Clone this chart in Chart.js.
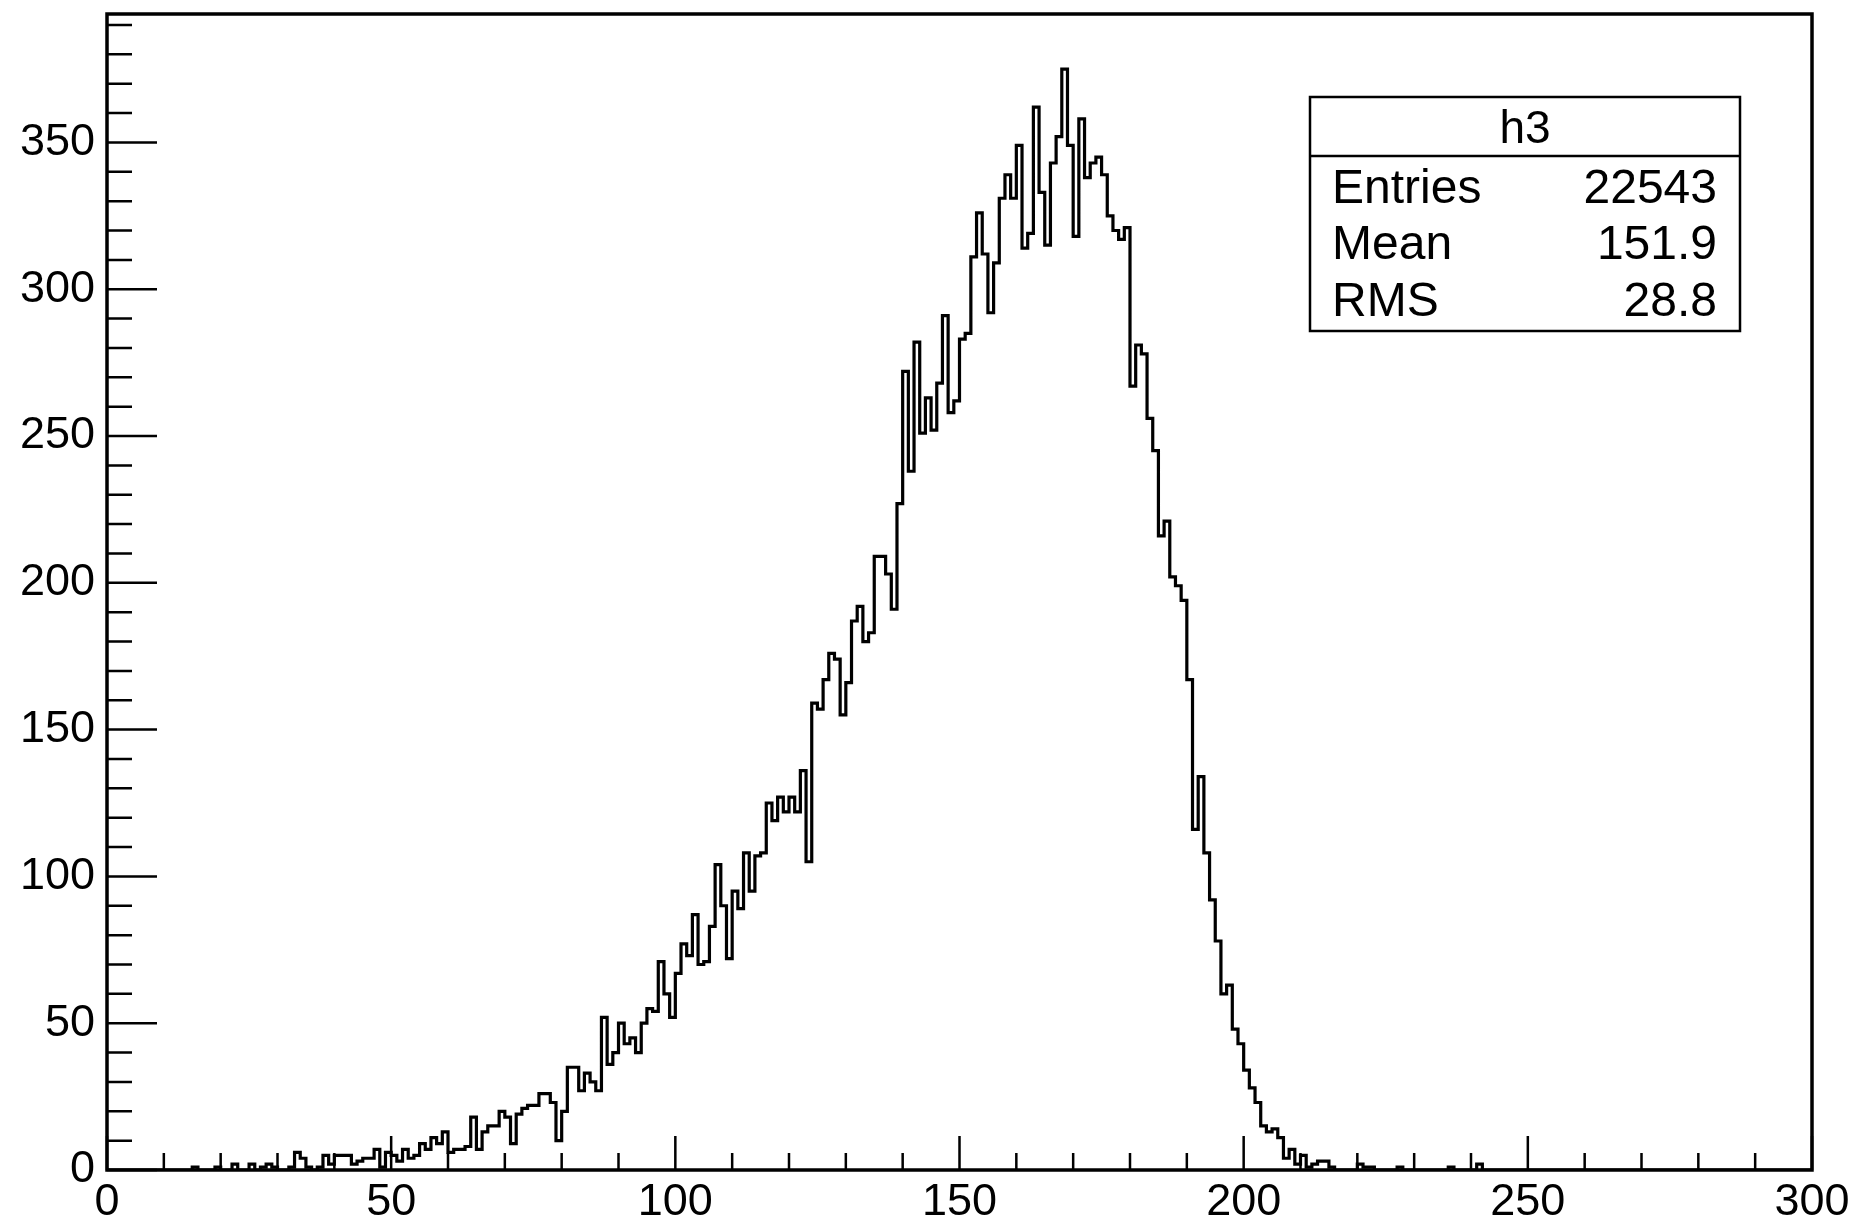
<!DOCTYPE html>
<html>
<head>
<meta charset="utf-8">
<script src="https://cdn.jsdelivr.net/npm/chart.js@4.4.1/dist/chart.umd.min.js"></script>
<style>
  html, body { margin: 0; padding: 0; background: #fff; }
  #wrap { width: 1857px; height: 1223px; }
</style>
</head>
<body>
<div id="wrap"><canvas id="h3" width="1857" height="1223"></canvas></div>
<script>
// histogram h3: 300 bins of width 1 from 0 to 300
const binLow = 0;
const binWidth = 1;

// bins 0-59
const countsLowTail = [
  0, 0, 0, 0, 0, 0, 0, 0, 0, 0,
  0, 0, 0, 0, 0, 1, 0, 0, 0, 1,
  0, 0, 2, 0, 0, 2, 0, 1, 2, 1,
  0, 0, 1, 6, 4, 1, 0, 1, 5, 2,
  5, 5, 5, 2, 3, 4, 4, 7, 1, 6,
  5, 3, 7, 4, 5, 9, 7, 11, 9, 13
];
// bins 60-119
const countsRise = [
  6, 7, 7, 8, 18, 7, 13, 15, 15, 20,
  18, 9, 19, 21, 22, 22, 26, 26, 23, 10,
  20, 35, 35, 27, 33, 30, 27, 52, 36, 40,
  50, 43, 45, 40, 50, 55, 54, 71, 60, 52,
  67, 77, 73, 87, 70, 71, 83, 104, 90, 72,
  95, 89, 108, 95, 107, 108, 125, 119, 127, 122
];
// bins 120-179
const countsPeak = [
  127, 122, 136, 105, 159, 157, 167, 176, 174, 155,
  166, 187, 192, 180, 183, 209, 209, 203, 191, 227,
  272, 238, 282, 251, 263, 252, 268, 291, 258, 262,
  283, 285, 311, 326, 312, 292, 309, 331, 339, 331,
  349, 314, 319, 362, 333, 315, 343, 352, 375, 349,
  318, 358, 338, 343, 345, 339, 325, 320, 317, 321
];
// bins 180-239
const countsFall = [
  267, 281, 278, 256, 245, 216, 221, 202, 199, 194,
  167, 116, 134, 108, 92, 78, 60, 63, 48, 43,
  34, 28, 23, 15, 13, 14, 11, 4, 7, 2,
  5, 1, 2, 3, 3, 1, 0, 0, 0, 0,
  2, 1, 1, 0, 0, 0, 0, 1, 0, 0,
  0, 0, 0, 0, 0, 0, 1, 0, 0, 0
];
// bins 240-299
const countsHighTail = [
  0, 2, 0, 0, 0, 0, 0, 0, 0, 0,
  0, 0, 0, 0, 0, 0, 0, 0, 0, 0,
  0, 0, 0, 0, 0, 0, 0, 0, 0, 0,
  0, 0, 0, 0, 0, 0, 0, 0, 0, 0,
  0, 0, 0, 0, 0, 0, 0, 0, 0, 0,
  0, 0, 0, 0, 0, 0, 0, 0, 0, 0
];

const xTickLabels = [0, 50, 100, 150, 200, 250, 300];
const yTickLabels = [0, 50, 100, 150, 200, 250, 300, 350];
const xMax = 300;
const yMax = 393.75;

const statTitle = 'h3';
const statNames = ['Entries', 'Mean', 'RMS'];
const statValues = ['22543', '151.9', '28.8'];

const FONT = "'Liberation Sans', Arial, Helvetica, sans-serif";

const counts = [].concat(countsLowTail, countsRise, countsPeak, countsFall, countsHighTail);
let points = counts.map((c, i) => ({x: binLow + i * binWidth, y: c}));
// closing point at the upper edge of the last bin
points.push({x: binLow + counts.length * binWidth, y: counts[counts.length - 1]});

// ROOT style frame, inward ticks and the stats box
const rootFrame = {
  id: 'rootFrame',
  afterDraw(chart) {
    const ctx = chart.ctx;
    const a = chart.chartArea;
    const xs = chart.scales.x, ys = chart.scales.y;
    ctx.save();
    ctx.strokeStyle = '#000';
    ctx.lineWidth = 2.5;
    ctx.beginPath();
    for (let v = 0; v <= xMax; v += 10) {
      let px = xs.getPixelForValue(v);
      let len = (v % 50 === 0) ? 34 : 17;
      ctx.moveTo(px, a.bottom);
      ctx.lineTo(px, a.bottom - len);
    }
    for (let v = 0; v <= yMax; v += 10) {
      let py = ys.getPixelForValue(v);
      let len = (v % 50 === 0) ? 50 : 25;
      ctx.moveTo(a.left, py);
      ctx.lineTo(a.left + len, py);
    }
    ctx.stroke();
    ctx.lineWidth = 3.5;
    ctx.strokeRect(a.left, a.top, a.right - a.left, a.bottom - a.top);

    // stats box
    let bx = 1310, by = 97, bw = 430, bh = 234;
    ctx.fillStyle = '#fff';
    ctx.fillRect(bx, by, bw, bh);
    ctx.lineWidth = 2.5;
    ctx.strokeRect(bx, by, bw, bh);
    ctx.beginPath();
    ctx.moveTo(bx, 156);
    ctx.lineTo(bx + bw, 156);
    ctx.stroke();
    ctx.fillStyle = '#000';
    ctx.font = '46px ' + FONT;
    ctx.textBaseline = 'alphabetic';
    ctx.textAlign = 'center';
    ctx.fillText(statTitle, bx + bw / 2, 143);
    ctx.font = '48px ' + FONT;
    let rowBase = [203, 259, 316];
    statNames.forEach((name, i) => {
      ctx.textAlign = 'left';
      ctx.fillText(name, 1332, rowBase[i]);
      ctx.textAlign = 'right';
      ctx.fillText(statValues[i], 1717, rowBase[i]);
    });
    ctx.restore();
  }
};

new Chart(document.getElementById('h3'), {
  type: 'line',
  data: {
    datasets: [{
      label: statTitle,
      data: points,
      stepped: 'before',
      borderColor: '#000',
      borderWidth: 3.2,
      pointRadius: 0,
      fill: false,
      tension: 0
    }]
  },
  options: {
    responsive: false,
    animation: false,
    devicePixelRatio: 1,
    layout: { padding: { top: 14, right: 45, left: 0, bottom: 0 } },
    plugins: { legend: { display: false }, tooltip: { enabled: false } },
    scales: {
      x: {
        type: 'linear',
        min: 0,
        max: xMax,
        grid: { display: false, drawTicks: false },
        border: { display: false },
        afterFit: (s) => { s.height = 53; s.paddingLeft = 0; s.paddingRight = 0; },
        afterBuildTicks: (s) => { s.ticks = xTickLabels.map(v => ({value: v})); },
        ticks: {
          color: '#000',
          padding: 6,
          maxRotation: 0,
          autoSkip: false,
          font: { family: FONT, size: 45 }
        }
      },
      y: {
        type: 'linear',
        min: 0,
        max: yMax,
        grid: { display: false, drawTicks: false },
        border: { display: false },
        afterFit: (s) => { s.width = 107; s.paddingTop = 0; s.paddingBottom = 0; },
        afterBuildTicks: (s) => { s.ticks = yTickLabels.map(v => ({value: v})); },
        ticks: {
          color: '#000',
          padding: 12,
          autoSkip: false,
          font: { family: FONT, size: 45 }
        }
      }
    }
  },
  plugins: [rootFrame]
});
</script>
</body>
</html>
